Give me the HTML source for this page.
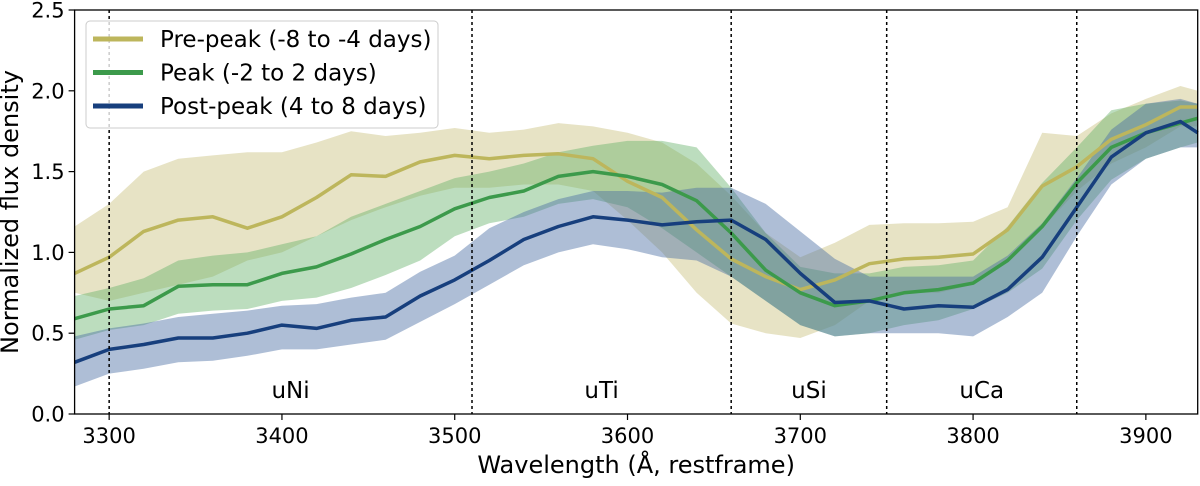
<!DOCTYPE html>
<html><head><meta charset="utf-8"><style>
body{margin:0;background:#fff;}
svg text{font-family:"DejaVu Sans","Liberation Sans",sans-serif;fill:#000;}
</style></head><body>
<svg id="chart" width="1200" height="481" viewBox="0 0 1200 481" xmlns="http://www.w3.org/2000/svg">
<g id="bands"></g><g id="lines"></g><g id="axes"></g>
</svg>
<script>
const wave = [3280,3300,3320,3340,3360,3380,3400,3420,3440,3460,3480,3500,3520,3540,3560,3580,3600,3620,3640,3660,3680,3700,3720,3740,3760,3780,3800,3820,3840,3860,3880,3900,3920,3930];
const preMean = [0.87,0.97,1.13,1.20,1.22,1.15,1.22,1.34,1.48,1.47,1.56,1.60,1.58,1.60,1.61,1.58,1.44,1.34,1.14,0.96,0.85,0.77,0.83,0.93,0.96,0.97,0.99,1.14,1.41,1.53,1.70,1.79,1.90,1.90];
const preUpper = [1.16,1.30,1.50,1.58,1.60,1.62,1.62,1.68,1.75,1.72,1.74,1.77,1.74,1.76,1.80,1.78,1.74,1.68,1.55,1.35,1.12,0.97,1.06,1.17,1.18,1.18,1.19,1.28,1.74,1.72,1.86,1.95,2.03,2.00];
const preLower = [0.75,0.70,0.75,0.80,0.85,0.95,1.00,1.10,1.20,1.28,1.35,1.40,1.40,1.42,1.42,1.38,1.20,1.00,0.75,0.56,0.50,0.47,0.55,0.70,0.75,0.75,0.80,0.95,1.15,1.38,1.55,1.65,1.78,1.78];
const peakMean = [0.59,0.65,0.67,0.79,0.80,0.80,0.87,0.91,0.99,1.08,1.16,1.27,1.34,1.38,1.47,1.50,1.47,1.42,1.32,1.12,0.89,0.75,0.67,0.70,0.75,0.77,0.81,0.95,1.16,1.43,1.65,1.74,1.80,1.83];
const peakUpper = [0.73,0.78,0.84,0.95,0.98,1.00,1.05,1.10,1.22,1.30,1.38,1.46,1.50,1.55,1.62,1.66,1.69,1.69,1.65,1.40,1.12,0.91,0.87,0.87,0.91,0.92,0.95,1.16,1.43,1.65,1.88,1.92,1.94,1.92];
const peakLower = [0.46,0.52,0.55,0.62,0.64,0.65,0.70,0.72,0.78,0.86,0.95,1.10,1.18,1.22,1.30,1.33,1.28,1.15,1.00,0.85,0.70,0.55,0.48,0.50,0.55,0.58,0.65,0.75,0.90,1.20,1.45,1.58,1.65,1.68];
const postMean = [0.32,0.40,0.43,0.47,0.47,0.50,0.55,0.53,0.58,0.60,0.73,0.83,0.95,1.08,1.16,1.22,1.20,1.17,1.19,1.20,1.08,0.87,0.69,0.70,0.65,0.67,0.66,0.77,0.97,1.28,1.59,1.74,1.81,1.74];
const postUpper = [0.48,0.53,0.56,0.60,0.62,0.64,0.67,0.68,0.72,0.75,0.88,0.98,1.15,1.25,1.33,1.38,1.38,1.37,1.40,1.40,1.30,1.13,0.96,0.85,0.85,0.85,0.85,0.98,1.18,1.46,1.76,1.92,1.95,1.92];
const postLower = [0.17,0.25,0.28,0.32,0.33,0.36,0.40,0.40,0.43,0.46,0.57,0.68,0.80,0.92,1.00,1.05,1.02,0.97,0.95,0.85,0.70,0.55,0.48,0.50,0.50,0.50,0.48,0.60,0.75,1.10,1.42,1.58,1.65,1.65];
const xTicks = [3300,3400,3500,3600,3700,3800,3900];
const yTicks = [0.0,0.5,1.0,1.5,2.0,2.5];
const regionLines = [3300,3510,3660,3750,3860];
const regionNames = ["uNi","uTi","uSi","uCa"];
const regionLabelPos = [3405,3585,3705,3805];
const seriesNames = ["Pre-peak (-8 to -4 days)","Peak (-2 to 2 days)","Post-peak (4 to 8 days)"];

const L=74.6,R=1197.7,T=10,B=414,X0=3280,X1=3930,Y0=0,Y1=2.5;
const sx=v=>L+(v-X0)/(X1-X0)*(R-L);
const sy=v=>B-(v-Y0)/(Y1-Y0)*(B-T);
const NS="http://www.w3.org/2000/svg";
function mk(tag,attrs,parent){const e=document.createElementNS(NS,tag);for(const k in attrs)e.setAttribute(k,attrs[k]);parent.appendChild(e);return e;}
const bands=document.getElementById('bands'),lines=document.getElementById('lines'),axes=document.getElementById('axes');
const series=[
 {name:'pre-peak',m:preMean,u:preUpper,l:preLower,line:'#bdb65c',fill:'#c9c27f',op:0.45},
 {name:'peak',m:peakMean,u:peakUpper,l:peakLower,line:'#3c9a4b',fill:'#5fae63',op:0.42},
 {name:'post-peak',m:postMean,u:postUpper,l:postLower,line:'#173f7d',fill:'#4c6fa5',op:0.45}
];
series.forEach(s=>{
  let d='M'+wave.map((w,i)=>sx(w).toFixed(1)+','+sy(s.u[i]).toFixed(1)).join('L');
  for(let i=wave.length-1;i>=0;i--)d+='L'+sx(wave[i]).toFixed(1)+','+sy(s.l[i]).toFixed(1);
  const p=mk('path',{d:d+'Z',fill:s.fill,'fill-opacity':s.op},bands);
  
  
});
series.forEach(s=>{
  const p=mk('polyline',{points:wave.map((w,i)=>sx(w).toFixed(1)+','+sy(s.m[i]).toFixed(1)).join(' '),fill:'none',stroke:s.line,'stroke-width':3.5,'stroke-linejoin':'round'},lines);
  
  
});
regionLines.forEach(w=>{
  const ln=mk('line',{x1:sx(w),x2:sx(w),y1:T,y2:B,stroke:'#000','stroke-width':1.5,'stroke-dasharray':'3,3'},axes);
  
  
});
regionNames.forEach((n,i)=>{
  const t=mk('text',{x:sx(regionLabelPos[i]),y:398,'text-anchor':'middle','font-size':23},axes);
  t.textContent=n;
  
  
});
const frame=mk('rect',{x:L,y:T,width:R-L,height:B-T,fill:'none',stroke:'#000','stroke-width':1.3},axes);


xTicks.forEach(v=>{
  mk('line',{x1:sx(v),x2:sx(v),y1:B,y2:B+6,stroke:'#000','stroke-width':1.2},axes);
  const t=mk('text',{x:sx(v),y:B+29,'text-anchor':'middle','font-size':21},axes);
  t.textContent=v;
  
  
});
yTicks.forEach(v=>{
  mk('line',{x1:L-6,x2:L,y1:sy(v),y2:sy(v),stroke:'#000','stroke-width':1.2},axes);
  const t=mk('text',{x:L-10,y:sy(v)+7.5,'text-anchor':'end','font-size':21},axes);
  t.textContent=v.toFixed(1);
  
  
});
const xl=mk('text',{x:(L+R)/2,y:473,'text-anchor':'middle','font-size':24},axes);
xl.textContent='Wavelength (Å, restframe)';


const yl=mk('text',{x:0,y:0,'text-anchor':'middle','font-size':24,transform:'translate(18,'+((T+B)/2)+') rotate(-90)'},axes);
yl.textContent='Normalized flux density';


const lg=mk('g',{},axes);


mk('rect',{x:86,y:21,width:352,height:107,rx:4,fill:'#fff','fill-opacity':0.8,stroke:'#ccc','stroke-width':1},lg);
seriesNames.forEach((n,i)=>{
  const y=39+i*33.5;
  const sw=mk('line',{x1:93,x2:143,y1:y,y2:y,stroke:series[i].line,'stroke-width':5},lg);
  
  
  const t=mk('text',{x:160,y:y+8,'font-size':23},lg);
  t.textContent=n;
  
  
});
</script>
</body></html>
